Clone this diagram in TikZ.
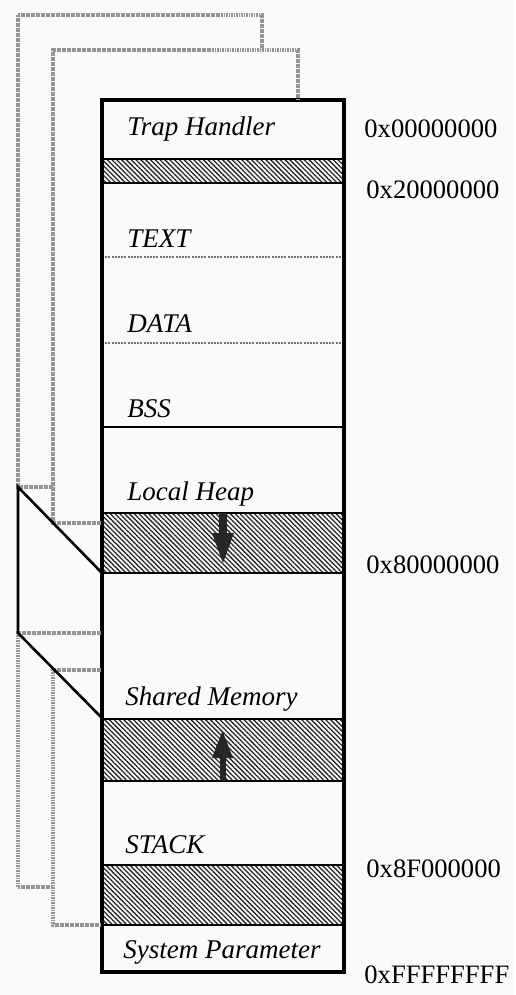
\documentclass[tikz,border=0pt]{standalone}
\usepackage{fontspec}
\setmainfont{Liberation Serif}
\usetikzlibrary{patterns.meta}
\begin{document}
\begin{tikzpicture}[x=0.5pt,y=-0.5pt,
  frame/.style={line width=1.8pt, line join=miter},
  sep/.style={line width=1pt},
  dotsep/.style={line width=1pt, draw=black!55, dash pattern=on 1pt off 0.6pt},
  hatch/.style={pattern={Lines[angle=-45,distance=1.7pt,line width=0.65pt]}, pattern color=black!85},
  link/.style={draw=black!42, line width=1.7pt, dash pattern=on 0.9pt off 0.35pt},
  map/.style={line width=1.3pt, line join=miter},
  lbl/.style={anchor=base west, inner sep=0pt, font=\fontsize{13.5}{15}\selectfont\itshape},
  addr/.style={anchor=base west, inner sep=0pt, font=\fontsize{13.3}{15}\selectfont},
  arr/.style={fill=black!85}]
\useasboundingbox[fill=black!2] (0,0) rectangle (515,995);

% ---- key coordinates
\coordinate (tl) at (102,100);
\coordinate (br) at (344,972);

% ---- hatched bands
\path[hatch] (102,159) rectangle (344,183);
\path[hatch] (102,513) rectangle (344,573);
\path[hatch] (102,719) rectangle (344,781);
\path[hatch] (102,865) rectangle (344,925);

% ---- separators
\draw[sep] (102,159) -- (344,159);
\draw[sep] (102,183) -- (344,183);
\draw[dotsep] (102,257) -- (344,257);
\draw[dotsep] (102,343) -- (344,343);
\draw[sep] (102,427) -- (344,427);
\draw[sep] (102,513) -- (344,513);
\draw[sep] (102,573) -- (344,573);
\draw[sep] (102,719) -- (344,719);
\draw[sep] (102,781) -- (344,781);
\draw[sep] (102,865) -- (344,865);
\draw[sep] (102,925) -- (344,925);

% ---- growth arrows
\fill[arr] (219,513) rectangle (227,535);
\fill[arr] (212,533) -- (234,533) -- (223,563) -- cycle;
\fill[arr] (219.5,756) rectangle (225.5,781);
\fill[arr] (212,758) -- (233,758) -- (222.5,731) -- cycle;

% ---- frame
\draw[frame] (tl) rectangle (br);

% ---- region labels
\node[lbl] (trap)   at (127,135) {Trap Handler};
\node[lbl] (text)   at (127,247) {TEXT};
\node[lbl] (data)   at (127,332) {DATA};
\node[lbl] (bss)    at (127,417) {BSS};
\node[lbl] (heap)   at (127,500) {Local Heap};
\node[lbl] (shared) at (125,705) {Shared Memory};
\node[lbl] (stack)  at (125,853) {STACK};
\node[lbl] (sysp)   at (123,958) {System Parameter};

% ---- addresses
\node[addr] (a0) at (364,138) {0x00000000};
\node[addr] (a2) at (366,198) {0x20000000};
\node[addr] (a8) at (366,573) {0x80000000};
\node[addr] (a8f) at (366,877) {0x8F000000};
\node[addr] (af) at (364,983) {0xFFFFFFFF};

% ---- link coordinates
\coordinate (heapin)  at (101,523);
\coordinate (trapin)  at (298,100);
\coordinate (shin)    at (101,670);
\coordinate (stkin)   at (101,925);
\coordinate (shtop)   at (101,633);
\coordinate (mA)      at (18,487);
\coordinate (mB)      at (18,633);
\coordinate (heapbot) at (101,572);
\coordinate (shbot)   at (101,717);

% ---- gray link lines
\draw[link] (heapin) -- (53,523) -- (53,50) -- (298,50) -- (trapin);
\draw[link] (53,487) -- (mA) -- (18,15) -- (262,15) -- (262,50);
\draw[link] (shtop) -- (mB) -- (18,887) -- (53,887);
\draw[link] (shin) -- (53,670) -- (53,925) -- (stkin);

% ---- mapping parallelogram
\draw[map] (heapbot) -- (mA) -- (mB) -- (shbot);
\end{tikzpicture}
\end{document}
